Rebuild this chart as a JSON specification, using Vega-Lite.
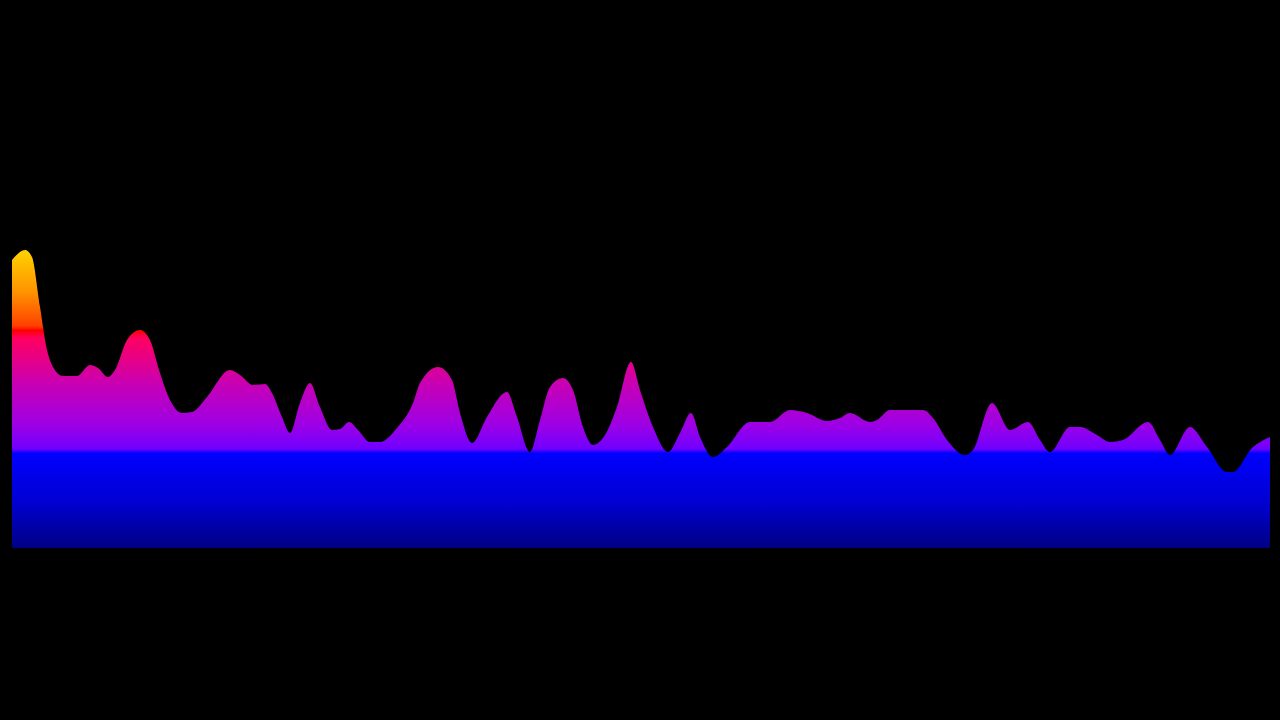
{
  "$schema": "https://vega.github.io/schema/vega-lite/v6.json",
  "autosize": "none",
  "width": 1258,
  "height": 400,
  "padding": {"left": 12, "top": 148, "right": 10, "bottom": 172},
  "background": "#000000",
  "config": {"view": {"stroke": null}},
  "data": {"values": [
    {"x": 12, "v": 288}, {"x": 25, "v": 298}, {"x": 32, "v": 291}, {"x": 40, "v": 241}, {"x": 47, "v": 198},
    {"x": 53, "v": 181}, {"x": 63, "v": 172}, {"x": 77, "v": 172}, {"x": 90, "v": 183}, {"x": 98, "v": 180},
    {"x": 108, "v": 171}, {"x": 115, "v": 178}, {"x": 127, "v": 208}, {"x": 140, "v": 218}, {"x": 150, "v": 208},
    {"x": 160, "v": 175}, {"x": 170, "v": 148}, {"x": 182, "v": 135}, {"x": 192, "v": 136}, {"x": 207, "v": 151},
    {"x": 230, "v": 178}, {"x": 240, "v": 173}, {"x": 253, "v": 163}, {"x": 265, "v": 164}, {"x": 272, "v": 155},
    {"x": 282, "v": 131}, {"x": 290, "v": 115}, {"x": 300, "v": 145}, {"x": 310, "v": 165}, {"x": 320, "v": 141},
    {"x": 332, "v": 118}, {"x": 340, "v": 119}, {"x": 349, "v": 126}, {"x": 358, "v": 118}, {"x": 370, "v": 106},
    {"x": 380, "v": 106}, {"x": 397, "v": 120}, {"x": 413, "v": 145}, {"x": 420, "v": 165}, {"x": 438, "v": 181},
    {"x": 452, "v": 168}, {"x": 460, "v": 135}, {"x": 472, "v": 105}, {"x": 487, "v": 131}, {"x": 507, "v": 156},
    {"x": 517, "v": 131}, {"x": 530, "v": 96}, {"x": 540, "v": 128}, {"x": 550, "v": 161}, {"x": 563, "v": 170},
    {"x": 573, "v": 158}, {"x": 583, "v": 121}, {"x": 593, "v": 103}, {"x": 605, "v": 113}, {"x": 617, "v": 141},
    {"x": 631, "v": 186}, {"x": 640, "v": 158}, {"x": 653, "v": 121}, {"x": 668, "v": 96}, {"x": 680, "v": 115},
    {"x": 691, "v": 135}, {"x": 700, "v": 111}, {"x": 713, "v": 91}, {"x": 727, "v": 101}, {"x": 750, "v": 126},
    {"x": 770, "v": 126}, {"x": 790, "v": 138}, {"x": 807, "v": 135}, {"x": 827, "v": 127}, {"x": 840, "v": 130},
    {"x": 850, "v": 135}, {"x": 870, "v": 126}, {"x": 877, "v": 128}, {"x": 890, "v": 138}, {"x": 923, "v": 138},
    {"x": 933, "v": 130}, {"x": 947, "v": 108}, {"x": 965, "v": 93}, {"x": 973, "v": 98}, {"x": 992, "v": 145},
    {"x": 1010, "v": 118}, {"x": 1028, "v": 126}, {"x": 1040, "v": 108}, {"x": 1050, "v": 96}, {"x": 1070, "v": 121},
    {"x": 1080, "v": 121}, {"x": 1097, "v": 113}, {"x": 1110, "v": 106}, {"x": 1123, "v": 108}, {"x": 1148, "v": 126},
    {"x": 1160, "v": 108}, {"x": 1170, "v": 93}, {"x": 1190, "v": 121}, {"x": 1207, "v": 101}, {"x": 1227, "v": 76},
    {"x": 1233, "v": 76}, {"x": 1252, "v": 100}, {"x": 1270, "v": 111}
  ]},
  "mark": {
    "type": "area",
    "interpolate": "monotone",
    "color": {
      "gradient": "linear",
      "x1": 0, "y1": 0, "x2": 0, "y2": 1,
      "stops": [
        {"offset": 0, "color": "#ffd200"},
        {"offset": 0.14, "color": "#ff9400"},
        {"offset": 0.255, "color": "#ff4000"},
        {"offset": 0.27, "color": "#ff0000"},
        {"offset": 0.295, "color": "#ff0060"},
        {"offset": 0.45, "color": "#c800b4"},
        {"offset": 0.59, "color": "#9c00e6"},
        {"offset": 0.668, "color": "#7000ff"},
        {"offset": 0.682, "color": "#0000ff"},
        {"offset": 0.85, "color": "#0000d0"},
        {"offset": 1, "color": "#000084"}
      ]
    }
  },
  "encoding": {
    "x": {"field": "x", "type": "quantitative", "scale": {"domain": [12, 1270], "nice": false, "zero": false}, "axis": null},
    "y": {"field": "v", "type": "quantitative", "scale": {"domain": [0, 400], "nice": false}, "axis": null}
  }
}
